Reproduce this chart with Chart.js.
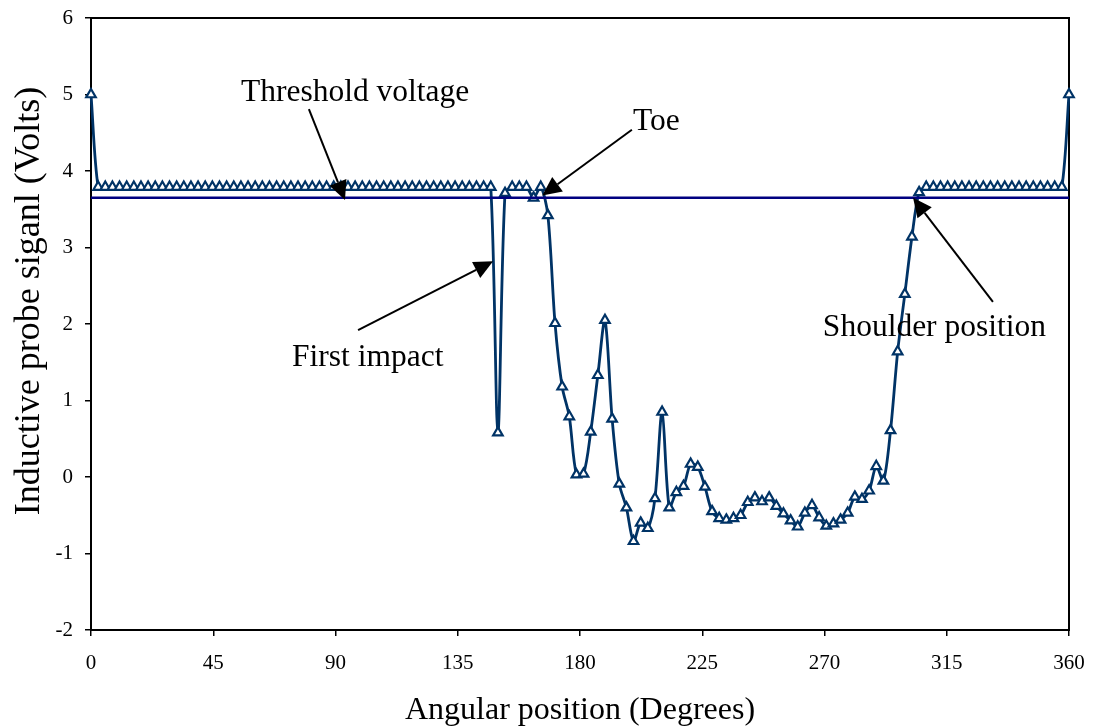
<!DOCTYPE html>
<html>
<head>
<meta charset="utf-8">
<title>Inductive probe signal</title>
<script src="https://cdn.jsdelivr.net/npm/chart.js@4.4.0/dist/chart.umd.min.js"></script>
<style>
    body { margin: 0; background: #fff; }
</style>
</head>
<body>
<canvas id="probeChart" width="1094" height="728"></canvas>
<script>
// sampling grid: 137 intervals over one revolution
const angleStep = 360 / 137;

// probe signal (Volts), one value per sample
const probeSignal = [
    5.00,
    3.79, 3.79, 3.79, 3.79, 3.79, 3.79, 3.79, 3.79, 3.79, 3.79, 3.79,
    3.79, 3.79, 3.79, 3.79, 3.79, 3.79, 3.79, 3.79, 3.79, 3.79, 3.79,
    3.79, 3.79, 3.79, 3.79, 3.79, 3.79, 3.79, 3.79, 3.79, 3.79, 3.79,
    3.79, 3.79, 3.79, 3.79, 3.79, 3.79, 3.79, 3.79, 3.79, 3.79, 3.79,
    3.79, 3.79, 3.79, 3.79, 3.79, 3.79, 3.79, 3.79, 3.79, 3.79, 3.79,
    3.79, 0.58, 3.71, 3.79, 3.79, 3.79, 3.65, 3.79, 3.42, 2.01,
    1.18, 0.79, 0.03, 0.04, 0.59, 1.33, 2.05, 0.76, -0.09, -0.40,
    -0.84, -0.60, -0.67, -0.28, 0.85, -0.40, -0.20, -0.12, 0.17, 0.13,
    -0.13, -0.45, -0.54, -0.56, -0.54, -0.50, -0.33, -0.27, -0.32, -0.27,
    -0.38, -0.48, -0.57, -0.65, -0.47, -0.37, -0.53, -0.64, -0.61, -0.56,
    -0.47, -0.26, -0.29, -0.18, 0.14, -0.05, 0.61, 1.64, 2.39, 3.14,
    3.72,
    3.79, 3.79, 3.79, 3.79, 3.79, 3.79, 3.79, 3.79, 3.79, 3.79,
    3.79, 3.79, 3.79, 3.79, 3.79, 3.79, 3.79, 3.79, 3.79, 3.79,
    5.00
];

const thresholdVoltage = 3.65;
const xRange = [0, 360];
const xTickStep = 45;
const yRange = [-2, 6];
const yTickStep = 1;
const yTitle = 'Inductive probe siganl (Volts)';

// callouts, in data units: label left/middle, arrow start, arrow tip
const notes = [
    { text: 'Threshold voltage', label: [55.2, 5.02], from: [80.2, 4.81], to: [93.5, 3.62] },
    { text: 'Toe', label: [199.5, 4.65], from: [199.1, 4.54], to: [166.1, 3.68] },
    { text: 'First impact', label: [74.0, 1.56], from: [98.3, 1.92], to: [148.0, 2.82] },
    { text: 'Shoulder position', label: [269.4, 1.95], from: [332.0, 2.29], to: [302.6, 3.65] }
];

const serif = '"Liberation Serif", "Times New Roman", serif';

function drawArrow(ctx, x0, y0, x1, y1) {
    const len = 19, half = 9;
    const a = Math.atan2(y1 - y0, x1 - x0);
    const bx = x1 - len * Math.cos(a), by = y1 - len * Math.sin(a);
    ctx.beginPath();
    ctx.moveTo(x0, y0);
    ctx.lineTo(bx, by);
    ctx.lineWidth = 2;
    ctx.stroke();
    ctx.beginPath();
    ctx.moveTo(x1, y1);
    ctx.lineTo(bx + half * Math.sin(a), by - half * Math.cos(a));
    ctx.lineTo(bx - half * Math.sin(a), by + half * Math.cos(a));
    ctx.closePath();
    ctx.fill();
}

const callouts = {
    id: 'callouts',
    beforeDraw(chart) {
        const ctx = chart.ctx;
        ctx.save();
        ctx.fillStyle = '#fff';
        ctx.fillRect(0, 0, chart.width, chart.height);
        ctx.restore();
    },
    beforeDatasetsDraw(chart) {
        // plot area frame, under the series so the end markers sit on top
        const { ctx, chartArea: area } = chart;
        ctx.save();
        ctx.strokeStyle = '#000';
        ctx.lineWidth = 2;
        ctx.strokeRect(area.left, area.top, area.right - area.left, area.bottom - area.top);
        ctx.restore();
    },
    afterDraw(chart) {
        const { ctx, scales: { x, y } } = chart;
        ctx.save();
        ctx.fillStyle = '#000';
        ctx.strokeStyle = '#000';
        ctx.textBaseline = 'middle';

        // y title sits a little above the plot centre in the original
        ctx.save();
        ctx.font = '36px ' + serif;
        ctx.textAlign = 'center';
        ctx.translate(30, 301);
        ctx.rotate(-Math.PI / 2);
        ctx.fillText(yTitle, 0, 0);
        ctx.restore();

        ctx.font = '31.5px ' + serif;
        ctx.textAlign = 'left';
        notes.forEach(n => {
            ctx.fillText(n.text, x.getPixelForValue(n.label[0]), y.getPixelForValue(n.label[1]));
            drawArrow(ctx,
                x.getPixelForValue(n.from[0]), y.getPixelForValue(n.from[1]),
                x.getPixelForValue(n.to[0]), y.getPixelForValue(n.to[1]));
        });
        ctx.restore();
    }
};

const ctx = document.getElementById('probeChart').getContext('2d');
new Chart(ctx, {
    type: 'line',
    data: {
        datasets: [
            {
                label: 'Threshold voltage',
                data: [{ x: xRange[0], y: thresholdVoltage }, { x: xRange[1], y: thresholdVoltage }],
                borderColor: '#000080',
                borderWidth: 2.5,
                pointRadius: 0,
                tension: 0
            },
            {
                label: 'Inductive probe signal',
                data: probeSignal.map((v, i) => ({ x: i * angleStep, y: v })),
                borderColor: '#003366',
                borderWidth: 2.8,
                tension: 0.3,
                clip: false,
                pointStyle: 'triangle',
                pointRadius: 5.5,
                pointBorderWidth: 2.2,
                pointBackgroundColor: '#fff',
                pointBorderColor: '#003366'
            }
        ]
    },
    options: {
        responsive: false,
        animation: false,
        layout: { padding: { top: 18, right: 25, left: 0, bottom: 0 } },
        plugins: {
            legend: { display: false },
            tooltip: { enabled: false }
        },
        scales: {
            x: {
                type: 'linear',
                min: xRange[0],
                max: xRange[1],
                afterFit: s => { s.height = 98; s.paddingLeft = 0; s.paddingRight = 0; },
                ticks: { stepSize: xTickStep, color: '#000', font: { family: serif, size: 21 }, padding: 15, maxRotation: 0 },
                grid: { drawOnChartArea: false, tickLength: 6, color: '#000', lineWidth: 1.5 },
                border: { color: '#000', width: 2 },
                title: {
                    display: true,
                    text: 'Angular position (Degrees)',
                    color: '#000',
                    font: { family: serif, size: 32, lineHeight: 1.1 },
                    padding: { top: 0, bottom: 0 }
                }
            },
            y: {
                min: yRange[0],
                max: yRange[1],
                afterFit: s => { s.width = 91; s.paddingTop = 0; s.paddingBottom = 0; },
                ticks: { stepSize: yTickStep, color: '#000', font: { family: serif, size: 21 }, padding: 12 },
                grid: { drawOnChartArea: false, tickLength: 6, color: '#000', lineWidth: 1.5 },
                border: { color: '#000', width: 2 }
            }
        }
    },
    plugins: [callouts]
});
</script>
</body>
</html>
